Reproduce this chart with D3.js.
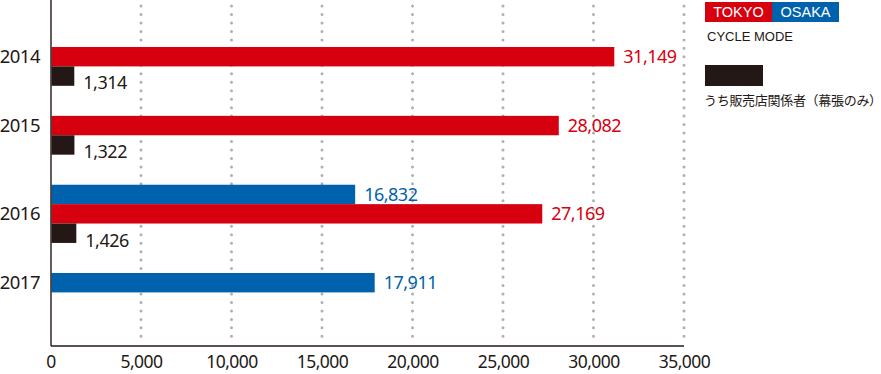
<!DOCTYPE html>
<html>
<head>
<meta charset="utf-8">
<script src="https://cdn.jsdelivr.net/npm/d3@7"></script>
<style>
  body { margin: 0; background: #fff; }
  svg { display: block; }
</style>
</head>
<body>
<div id="chart"></div>
<script>
// Chart data
const years = ["2014", "2015", "2016", "2017"];
const osaka = [null, null, 16832, 17911];
const tokyo = [31149, 28082, 27169, null];
const dealers = [1314, 1322, 1426, null];
const xTicks = [0, 5000, 10000, 15000, 20000, 25000, 30000, 35000];

const colors = { osaka: "#0062ad", tokyo: "#d7000f", dealers: "#231815" };
const ink = "#231815";

const width = 881, height = 374;
const plot = { left: 51, right: 684, top: 0, bottom: 346 };

const svg = d3.select("#chart").append("svg")
    .attr("width", width)
    .attr("height", height);

// x scale
const x = d3.scaleLinear()
    .domain([0, 35000])
    .range([plot.left - 0.5, plot.right]);

// Build the bar slots: per year, osaka / tokyo / dealers in that order
const gapUnits = 1.55;
const slots = [];
let count = 0;
years.forEach((year, i) => {
    [["osaka", osaka], ["tokyo", tokyo], ["dealers", dealers]].forEach(([key, arr]) => {
        if (arr[i] !== null) {
            slots.push({ year, key, value: arr[i], unit: count + i * gapUnits });
            count++;
        }
    });
});
const totalUnits = count + (years.length - 1) * gapUnits;
const barH = 19.4;
const y = d3.scaleLinear()
    .domain([0, totalUnits])
    .range([47, 47 + totalUnits * barH]);

// Dotted gridlines
svg.append("g")
    .selectAll("line")
    .data(xTicks.slice(1))
    .enter()
    .append("line")
    .attr("x1", d => x(d))
    .attr("x2", d => x(d))
    .attr("y1", 6)
    .attr("y2", plot.bottom - 2)
    .attr("stroke", "#b0b0b0")
    .attr("stroke-width", 3)
    .attr("stroke-linecap", "round")
    .attr("stroke-dasharray", "0,8.47");

// Bars
svg.append("g")
    .selectAll("rect")
    .data(slots)
    .enter()
    .append("rect")
    .attr("x", x(0) + 1)
    .attr("y", d => y(d.unit))
    .attr("width", d => x(d.value) - x(0) - 1)
    .attr("height", barH)
    .attr("fill", d => colors[d.key]);

// Value labels
svg.append("g")
    .selectAll("text")
    .data(slots)
    .enter()
    .append("text")
    .attr("x", d => x(d.value) + 9)
    .attr("y", d => y(d.unit) + barH / 2 + (d.key === "dealers" ? 7 : 0))
    .attr("dy", "0.35em")
    .attr("font-family", "Noto Sans, sans-serif")
    .attr("font-size", 18)
    .attr("letter-spacing", -0.5)
    .attr("fill", d => colors[d.key])
    .text(d => d3.format(",")(d.value));

// Year labels: centred on tokyo bar, else osaka bar
years.forEach((year, i) => {
    const s = slots.find(d => d.year === year && d.key === "tokyo") ||
              slots.find(d => d.year === year);
    svg.append("text")
        .attr("x", 40)
        .attr("y", y(s.unit) + barH / 2)
        .attr("dy", "0.35em")
        .attr("text-anchor", "end")
        .attr("font-family", "Noto Sans, sans-serif")
        .attr("font-size", 18.5)
        .attr("letter-spacing", -0.5)
        .attr("fill", ink)
        .text(year);
});

// Axes
svg.append("line")
    .attr("x1", plot.left).attr("x2", plot.left)
    .attr("y1", 0).attr("y2", plot.bottom)
    .attr("stroke", ink).attr("stroke-width", 1.4);

const xAxis = svg.append("g")
    .attr("transform", `translate(0,${plot.bottom})`)
    .call(d3.axisBottom(x).tickValues(xTicks).tickSize(0).tickPadding(10)
        .tickFormat(d3.format(",")));
xAxis.select(".domain")
    .attr("stroke", ink)
    .attr("stroke-width", 1.4)
    .attr("d", `M${plot.left},0H${plot.right}`);
xAxis.selectAll("text")
    .attr("font-family", "Noto Sans, sans-serif")
    .attr("font-size", 17.5)
    .attr("letter-spacing", -0.5)
    .attr("fill", ink);

// Legend
const legend = svg.append("g").attr("transform", "translate(705,2)");
const cities = [["TOKYO", colors.tokyo], ["OSAKA", colors.osaka]];
cities.forEach(([name, c], i) => {
    legend.append("rect")
        .attr("x", i * 67).attr("y", 0)
        .attr("width", 67).attr("height", 20)
        .attr("fill", c);
    legend.append("text")
        .attr("x", i * 67 + 33.5).attr("y", 10)
        .attr("dy", "0.36em")
        .attr("text-anchor", "middle")
        .attr("font-family", "Liberation Sans, Arial, sans-serif")
        .attr("font-size", 14.5)
        .attr("fill", "#fff")
        .text(name);
});
legend.append("text")
    .attr("x", 2).attr("y", 34)
    .attr("dy", "0.36em")
    .attr("font-family", "Liberation Sans, Arial, sans-serif")
    .attr("font-size", 13)
    .attr("fill", ink)
    .text("CYCLE MODE");
legend.append("rect")
    .attr("x", 0).attr("y", 63)
    .attr("width", 58).attr("height", 21)
    .attr("fill", colors.dealers);
legend.append("text")
    .attr("x", -1).attr("y", 98)
    .attr("dy", "0.36em")
    .attr("font-family", "Noto Sans CJK JP, sans-serif")
    .attr("font-size", 13)
    .attr("letter-spacing", -0.3)
    .attr("fill", ink)
    .text("うち販売店関係者（幕張のみ）");
</script>
</body>
</html>
